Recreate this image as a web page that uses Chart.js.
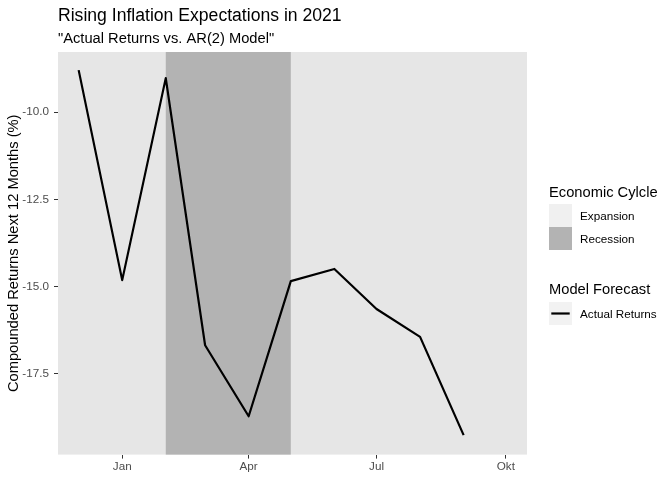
<!DOCTYPE html>
<html>
<head>
<meta charset="utf-8">
<script src="https://cdn.jsdelivr.net/npm/chart.js@4"></script>
<style>
html,body{margin:0;padding:0;background:#fff;}
#wrap{width:672px;height:480px;position:relative;}
</style>
</head>
<body>
<div id="wrap"><canvas id="c" width="672" height="480"></canvas></div>
<script>
// Data (x = days since 1 Jan 2021, points on the 1st of each month Dec 2020 .. Sep 2021)
const monthDays = [-31, 0, 31, 59, 90, 120, 151, 181, 212, 243];
const actualReturns = [-8.79, -14.82, -9.02, -16.69, -18.73, -14.85, -14.50, -15.65, -16.45, -19.27];
const xTickDays = [0, 90, 181, 273];
const xTickLabels = ['Jan', 'Apr', 'Jul', 'Okt'];
const yTicks = [-17.5, -15.0, -12.5, -10.0];
const recessionStart = 31;   // 1 Feb 2021
const recessionEnd = 120;    // 1 May 2021
const cycleLabels = ['Expansion', 'Recession'];
const forecastLabels = ['Actual Returns'];

const FONT = '"Liberation Sans", Arial, Helvetica, sans-serif';
const PANEL_BG = '#E6E6E6';
const RECESSION = '#B3B3B3';
const EXPANSION_KEY = '#F0F0F0';

const decor = {
  id: 'decor',
  beforeDraw(chart) {
    const ctx = chart.ctx;
    const a = chart.chartArea;
    const xs = chart.scales.x;
    ctx.save();
    ctx.fillStyle = '#ffffff';
    ctx.fillRect(0, 0, chart.width, chart.height);
    ctx.fillStyle = PANEL_BG;
    ctx.fillRect(a.left, a.top, a.right - a.left, a.bottom - a.top);
    const x0 = Math.max(a.left, xs.getPixelForValue(recessionStart));
    const x1 = Math.min(a.right, xs.getPixelForValue(recessionEnd));
    ctx.fillStyle = RECESSION;
    ctx.fillRect(x0, a.top, x1 - x0, a.bottom - a.top);
    ctx.restore();
  },
  afterDraw(chart) {
    const ctx = chart.ctx;
    const a = chart.chartArea;
    ctx.save();
    ctx.fillStyle = '#000';
    ctx.textAlign = 'left';
    ctx.textBaseline = 'alphabetic';
    ctx.font = '17.6px ' + FONT;
    ctx.fillText('Rising Inflation Expectations in 2021', a.left, 21);
    ctx.font = '14.7px ' + FONT;
    ctx.fillText('"Actual Returns vs. AR(2) Model"', a.left, 43);

    // y-axis title
    ctx.save();
    ctx.translate(18, (a.top + a.bottom) / 2);
    ctx.rotate(-Math.PI / 2);
    ctx.textAlign = 'center';
    ctx.font = '14.7px ' + FONT;
    ctx.fillText('Compounded Returns Next 12 Months (%)', 0, 0);
    ctx.restore();

    // legend
    const lx = 549;
    ctx.font = '14.7px ' + FONT;
    ctx.fillText('Economic Cylcle', lx, 196.5);
    const keyColors = [EXPANSION_KEY, RECESSION];
    ctx.font = '11.7px ' + FONT;
    cycleLabels.forEach((lab, i) => {
      const ky = 204 + i * 23;
      ctx.fillStyle = keyColors[i];
      ctx.fillRect(lx, ky, 23, 23);
      ctx.fillStyle = '#000';
      ctx.fillText(lab, lx + 31, ky + 11.5 + 4.2);
    });
    ctx.font = '14.7px ' + FONT;
    ctx.fillText('Model Forecast', lx, 293.5);
    ctx.font = '11.7px ' + FONT;
    forecastLabels.forEach((lab, i) => {
      const ky = 302 + i * 23;
      ctx.fillStyle = '#F2F2F2';
      ctx.fillRect(lx, ky, 23, 23);
      ctx.strokeStyle = '#000';
      ctx.lineWidth = 2.2;
      ctx.beginPath();
      ctx.moveTo(lx + 2.3, ky + 11.5);
      ctx.lineTo(lx + 20.7, ky + 11.5);
      ctx.stroke();
      ctx.fillStyle = '#000';
      ctx.fillText(lab, lx + 31, ky + 11.5 + 4.2);
    });
    ctx.restore();
  }
};

new Chart(document.getElementById('c'), {
  type: 'line',
  data: {
    datasets: [{
      label: forecastLabels[0],
      data: monthDays.map((d, i) => ({ x: d, y: actualReturns[i] })),
      borderColor: '#000',
      borderWidth: 2.2,
      pointRadius: 0,
      tension: 0,
      borderJoinStyle: 'round',
      borderCapStyle: 'butt',
      fill: false
    }]
  },
  options: {
    responsive: false,
    animation: false,
    devicePixelRatio: 1,
    layout: { padding: { top: 52, right: 145, left: 0, bottom: 0 } },
    plugins: { legend: { display: false }, title: { display: false }, tooltip: { enabled: false } },
    scales: {
      x: {
        type: 'linear',
        min: -45.7,
        max: 288.1,
        afterBuildTicks(scale) { scale.ticks = xTickDays.map(v => ({ value: v })); },
        afterFit(scale) { scale.height = 25.4; },
        ticks: {
          autoSkip: false,
          maxRotation: 0,
          padding: 1,
          color: '#4D4D4D',
          font: { family: FONT, size: 11.7 },
          callback: (v) => { const i = xTickDays.indexOf(v); return i >= 0 ? xTickLabels[i] : ''; }
        },
        grid: { drawOnChartArea: false, drawTicks: true, tickLength: 4, tickColor: '#333333', tickWidth: 1 },
        border: { display: false }
      },
      y: {
        type: 'linear',
        min: -19.83,
        max: -8.27,
        afterBuildTicks(scale) { scale.ticks = yTicks.map(v => ({ value: v })); },
        afterFit(scale) { scale.width = 58; },
        ticks: {
          autoSkip: false,
          padding: 5,
          color: '#4D4D4D',
          font: { family: FONT, size: 11.7 },
          callback: (v) => v.toFixed(1)
        },
        grid: { drawOnChartArea: false, drawTicks: true, tickLength: 4, tickColor: '#333333', tickWidth: 1 },
        border: { display: false }
      }
    }
  },
  plugins: [decor]
});
</script>
</body>
</html>
